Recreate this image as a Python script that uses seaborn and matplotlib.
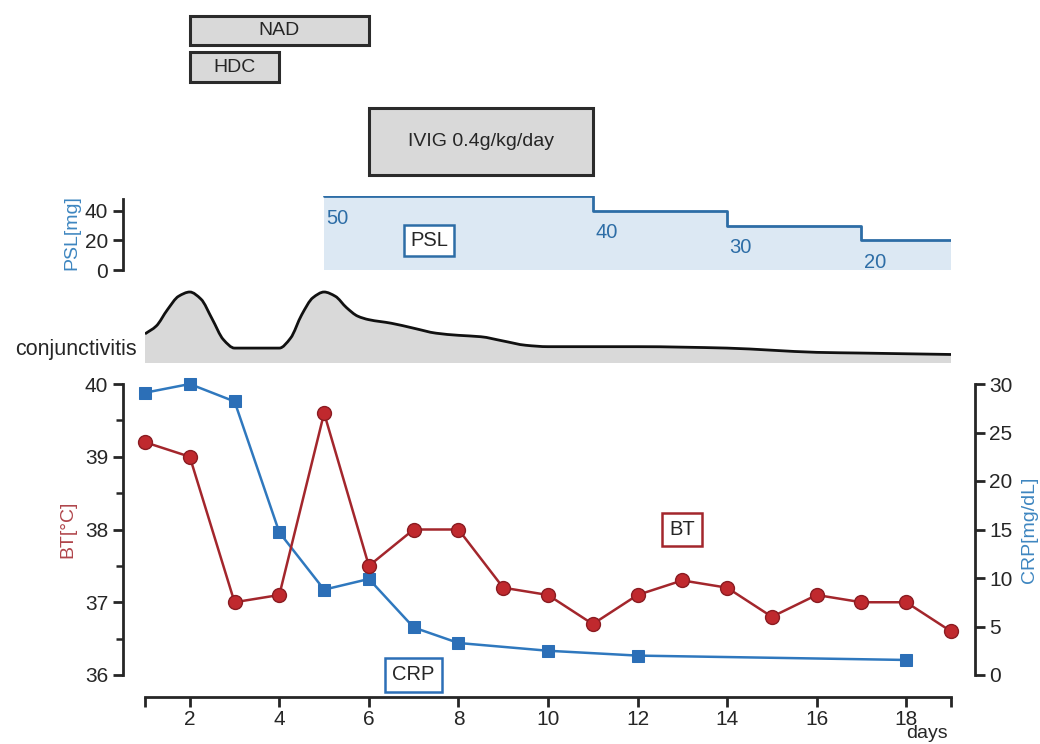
import numpy as np
import pandas as pd
import matplotlib
matplotlib.use("Agg")
import matplotlib.pyplot as plt
from matplotlib.path import Path
from matplotlib.patches import PathPatch
import seaborn as sns

# ---------------- data ----------------
bt_days = list(range(1, 20))
bt_values = [39.2, 39.0, 37.0, 37.1, 39.6, 37.5, 38.0, 38.0, 37.2, 37.1,
             36.7, 37.1, 37.3, 37.2, 36.8, 37.1, 37.0, 37.0, 36.6]

crp_days = [1, 2, 3, 4, 5, 6, 7, 8, 10, 12, 18]
crp_values = [29.1, 30.0, 28.2, 14.7, 8.8, 9.9, 4.9, 3.3, 2.5, 2.0, 1.55]

psl_change_days = [5, 11, 14, 17, 19]
psl_doses = [50, 40, 30, 20]

conj_days = [1.0, 1.25, 1.5, 1.75, 2.0, 2.25, 2.5, 2.75, 3.0, 3.5, 4.0,
             4.25, 4.5, 4.75, 5.0, 5.25, 5.5, 5.75, 6.0, 6.5, 7.0, 7.5,
             8.0, 8.5, 9.0, 9.5, 10.0, 12.0, 14.0, 15.0, 16.0, 17.0, 18.0, 19.0]
conj_level = [0.41, 0.52, 0.75, 0.94, 1.0, 0.90, 0.62, 0.33, 0.21, 0.21, 0.21,
              0.35, 0.68, 0.92, 1.0, 0.94, 0.78, 0.66, 0.61, 0.56, 0.49, 0.42,
              0.39, 0.37, 0.31, 0.25, 0.23, 0.23, 0.21, 0.18, 0.15, 0.14, 0.13, 0.12]

drug_names = ["NAD", "HDC", "IVIG 0.4g/kg/day"]
drug_start = [2, 2, 6]
drug_end = [6, 4, 11]

x_ticks = [2, 4, 6, 8, 10, 12, 14, 16, 18]

# ---------------- style ----------------
sns.set_theme(style="ticks")
plt.rcParams['font.family'] = ['Liberation Sans', 'DejaVu Sans']
plt.rcParams['font.size'] = 14

RED = "#A3262C"
RED_FACE = "#C0292E"
BLUE = "#2C6FB7"
BLUE_LINE = "#2F78BE"
PSL_BLUE = "#2D6DA6"
PSL_FILL = "#DCE8F3"
GRAY = "#D9D9D9"
DARK = "#262626"
TICK_FS = 15

W, H = 1040, 744
fig = plt.figure(figsize=(W / 100, H / 100), dpi=100)


def fx(px):
    return px / W


def fy(py):
    return (H - py) / H


def smooth_path_vertices(xs, ys):
    """Monotone cubic (Fritsch-Carlson) Bezier path through the read points."""
    xs = list(xs)
    ys = list(ys)
    n = len(xs)
    d = [(ys[i + 1] - ys[i]) / (xs[i + 1] - xs[i]) for i in range(n - 1)]
    m = [0.0] * n
    m[0] = d[0]
    m[-1] = d[-1]
    for i in range(1, n - 1):
        if d[i - 1] * d[i] <= 0:
            m[i] = 0.0
        else:
            m[i] = 2.0 / (1.0 / d[i - 1] + 1.0 / d[i])
    verts = [(xs[0], ys[0])]
    codes = [Path.MOVETO]
    for i in range(n - 1):
        h = xs[i + 1] - xs[i]
        c1 = (xs[i] + h / 3, ys[i] + m[i] * h / 3)
        c2 = (xs[i + 1] - h / 3, ys[i + 1] - m[i + 1] * h / 3)
        verts += [c1, c2, (xs[i + 1], ys[i + 1])]
        codes += [Path.CURVE4] * 3
    return verts, codes


x0, x1 = 145, 951
XL = (1, 19)

# ---------------- main axes (BT / CRP) ----------------
ax = fig.add_axes([fx(x0), fy(675), fx(x1) - fx(x0), fy(384) - fy(675)])
ax.set_facecolor("none")
df_bt = pd.DataFrame({"day": bt_days, "BT": bt_values})
sns.lineplot(data=df_bt, x="day", y="BT", ax=ax, color=RED, lw=1.8,
             marker="o", markersize=10, markerfacecolor=RED_FACE,
             markeredgecolor="#8A1C22", markeredgewidth=1.0, clip_on=False,
             zorder=4)
ax.set_xlim(*XL)
ax.set_ylim(36, 40)
ax.set_yticks([36, 37, 38, 39, 40])
ax.set_yticks([36.5, 37.5, 38.5, 39.5], minor=True)
ax.set_xticks(x_ticks)
ax.set_xticks([1, 19], minor=True)
ax.set_xlabel("")
ax.set_ylabel("BT[°C]", color="#B0454B", fontsize=14, labelpad=6)
for s in ["top", "right"]:
    ax.spines[s].set_visible(False)
ax.spines["left"].set_position(("outward", 16))
ax.spines["bottom"].set_position(("outward", 16))
for s in ["left", "bottom"]:
    ax.spines[s].set_linewidth(2.0)
    ax.spines[s].set_color(DARK)
ax.spines["left"].set_bounds(36, 40)
ax.spines["bottom"].set_bounds(1, 19)
ax.tick_params(axis="both", which="major", length=7, width=2.0, color=DARK,
               labelsize=TICK_FS, labelcolor=DARK, direction="out")
ax.tick_params(axis="x", which="major", pad=2)
ax.tick_params(axis="y", which="minor", length=5, width=1.8, color=DARK)
ax.tick_params(axis="x", which="minor", length=7, width=2.0, color=DARK)

ax2 = ax.twinx()
df_crp = pd.DataFrame({"day": crp_days, "CRP": crp_values})
sns.lineplot(data=df_crp, x="day", y="CRP", ax=ax2, color=BLUE_LINE, lw=1.8,
             marker="s", markersize=9, markerfacecolor=BLUE,
             markeredgecolor=BLUE, clip_on=False, zorder=3)
ax2.set_xlim(*XL)
ax2.set_ylim(0, 30)
ax2.set_yticks([0, 5, 10, 15, 20, 25, 30])
ax2.set_xlabel("")
ax2.set_ylabel("CRP[mg/dL]", color="#3E86C0", fontsize=14, labelpad=6)
for s in ["top", "left", "bottom"]:
    ax2.spines[s].set_visible(False)
ax2.spines["right"].set_position(("outward", 17))
ax2.spines["right"].set_linewidth(2.0)
ax2.spines["right"].set_color(DARK)
ax2.spines["right"].set_bounds(0, 30)
ax2.tick_params(axis="y", length=7, width=2.0, color=DARK, labelsize=TICK_FS,
                labelcolor=DARK, direction="out")
ax.set_zorder(ax2.get_zorder() + 1)
ax.patch.set_visible(False)

ax.text(13, 38.0, "BT", ha="center", va="center", fontsize=14.5, color=DARK,
        bbox=dict(boxstyle="square,pad=0.35", fc="white", ec=RED, lw=1.8))
ax.text(7.0, 36.0, "CRP", ha="center", va="center", fontsize=14.5, color=DARK,
        bbox=dict(boxstyle="square,pad=0.35", fc="white", ec=BLUE, lw=1.8))

fig.text(fx(948), fy(734), "days", ha="right", va="center", fontsize=14,
         color=DARK)

# ---------------- conjunctivitis ----------------
CONJ_TOP = 1.06
axc = fig.add_axes([fx(x0), fy(363), fx(x1) - fx(x0),
                    fy(363 - 71 * CONJ_TOP) - fy(363)])
verts, codes = smooth_path_vertices(conj_days, conj_level)
fill_verts = verts + [(conj_days[-1], 0), (conj_days[0], 0), verts[0]]
fill_codes = codes + [Path.LINETO, Path.LINETO, Path.CLOSEPOLY]
axc.add_patch(PathPatch(Path(fill_verts, fill_codes), fc=GRAY, ec="none",
                        lw=0))
axc.add_patch(PathPatch(Path(verts, codes), fc="none", ec="#111111", lw=2.0,
                        capstyle="butt"))
axc.set_xlim(*XL)
axc.set_ylim(0, CONJ_TOP)
axc.axis("off")
fig.text(fx(137), fy(350), "conjunctivitis", ha="right", va="center",
         fontsize=15.5, color=DARK)

# ---------------- PSL ----------------
axp = fig.add_axes([fx(x0), fy(270), fx(x1) - fx(x0), fy(196) - fy(270)])
psl_steps = psl_doses + [psl_doses[-1]]
axp.fill_between(psl_change_days, 0, psl_steps, step="post", color=PSL_FILL,
                 lw=0)
axp.step(psl_change_days, psl_steps, where="post", color=PSL_BLUE, lw=2.0)
for d, v in zip(psl_change_days[:-1], psl_doses):
    axp.text(d + 0.05, v - 15, str(v), ha="left", va="center", fontsize=14.5,
             color=PSL_BLUE)
axp.text(7.35, 20, "PSL", ha="center", va="center", fontsize=14.5, color=DARK,
         bbox=dict(boxstyle="square,pad=0.3", fc="white", ec=PSL_BLUE, lw=1.8))
axp.set_xlim(*XL)
axp.set_ylim(0, 50)
axp.set_yticks([0, 20, 40])
axp.set_xticks([])
for s in ["top", "right", "bottom"]:
    axp.spines[s].set_visible(False)
axp.spines["left"].set_position(("outward", 16))
axp.spines["left"].set_linewidth(2.0)
axp.spines["left"].set_color(DARK)
axp.spines["left"].set_bounds(0, 48)
axp.tick_params(axis="y", length=7, width=2.0, color=DARK, labelsize=TICK_FS,
                labelcolor=DARK)
axp.set_ylabel("PSL[mg]", color="#3E86C0", fontsize=14, labelpad=3)
axp.patch.set_visible(False)

# ---------------- treatment bars ----------------
axt = fig.add_axes([fx(x0), fy(190), fx(x1) - fx(x0), fy(0) - fy(190)])
bar_centers = [30.5, 67, 141.5]
bar_heights = [29, 30, 67]
widths = [e - s for s, e in zip(drug_start, drug_end)]
axt.barh(bar_centers, widths, height=bar_heights, left=drug_start,
         color=GRAY, edgecolor="#2B2B2B", lw=2.2)
for name, s, e, c in zip(drug_names, drug_start, drug_end, bar_centers):
    axt.text((s + e) / 2, c, name, ha="center", va="center", fontsize=14,
             color=DARK)
axt.set_xlim(*XL)
axt.set_ylim(190, 0)
axt.axis("off")

fig.savefig("out.png", dpi=100)
